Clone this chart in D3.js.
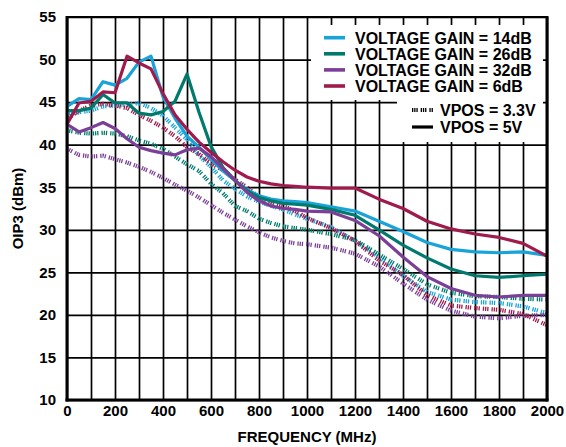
<!DOCTYPE html>
<html>
<head>
<meta charset="utf-8">
<script src="https://cdn.jsdelivr.net/npm/d3@7"></script>
<style>
  html, body { margin: 0; padding: 0; background: #fff; }
  svg { display: block; font-family: "Liberation Sans", Arial, sans-serif; }
</style>
</head>
<body>
<svg id="chart" width="566" height="447"></svg>
<script>
// ---------- DATA ----------
const freqs = [0,50,100,150,200,250,300,350,400,450,500,550,600,650,700,750,800,850,900,950,1000,1100,1200,1300,1400,1500,1600,1700,1800,1900,2000];

// VPOS = 5V (solid)
const gain14_5V = [44.5,45.4,45.3,47.4,47.0,47.8,49.7,50.4,45.6,43.1,41.0,39.7,38.3,36.9,35.8,34.7,34.0,33.6,33.4,33.3,33.2,32.7,32.2,31.0,29.8,28.5,27.7,27.4,27.3,27.4,27.0];
const gain26_5V = [44.0,44.0,44.3,45.9,44.9,44.9,43.7,43.5,43.9,45.1,48.3,43.8,39.8,37.3,35.8,34.6,33.8,33.4,33.1,33.0,32.9,32.4,31.7,30.0,28.2,26.7,25.4,24.6,24.4,24.6,24.8];
const gain32_5V = [42.4,41.5,42.0,42.6,41.9,40.7,39.7,39.3,39.0,38.8,39.4,39.6,38.6,37.2,35.8,34.4,33.4,32.8,32.5,32.4,32.2,32.1,31.1,29.3,26.8,24.5,23.1,22.3,22.1,22.3,22.3];
const gain6_5V  = [42.4,44.9,45.1,46.2,46.1,50.4,49.6,48.9,46.0,43.5,41.8,40.3,39.1,38.0,37.0,36.2,35.7,35.4,35.2,35.1,35.0,34.9,34.9,33.6,32.5,31.0,30.1,29.5,29.1,28.4,26.9];

// VPOS = 3.3V (dotted)
const gain14_33V = [43.5,43.8,44.0,44.5,44.6,44.7,44.9,44.3,43.4,42.0,40.6,38.7,37.4,35.8,34.8,33.9,33.3,32.8,32.4,31.8,31.3,30.3,28.7,26.8,24.6,22.7,21.8,21.5,21.4,21.0,20.2];
const gain26_33V = [41.7,41.4,41.3,41.4,41.3,41.0,40.5,40.1,39.5,38.6,37.7,36.9,35.4,34.3,32.8,32.2,31.3,30.8,30.4,30.2,30.0,29.5,28.8,27.1,25.4,23.6,22.6,22.2,22.1,21.9,21.8];
const gain32_33V = [39.5,38.8,38.6,38.7,38.3,37.9,37.4,36.8,36.1,35.3,34.6,33.8,32.9,32.0,31.2,30.4,29.7,29.1,28.7,28.4,28.3,27.9,27.2,25.7,23.7,21.8,20.5,19.8,19.6,19.9,20.0];
const gain6_33V  = [43.0,44.0,44.6,44.8,44.6,44.3,43.5,42.8,42.0,41.0,39.7,38.9,37.8,37.0,35.9,35.0,33.8,33.2,32.8,32.2,31.4,30.2,28.7,26.4,24.7,22.3,21.1,20.8,20.6,20.1,18.8];

const legendGain = ["VOLTAGE GAIN = 14dB","VOLTAGE GAIN = 26dB","VOLTAGE GAIN = 32dB","VOLTAGE GAIN = 6dB"];
const legendVpos = ["VPOS = 3.3V","VPOS = 5V"];
const xTickLabels = [0,200,400,600,800,1000,1200,1400,1600,1800,2000];
const yTickLabels = [10,15,20,25,30,35,40,45,50,55];
const xTitle = "FREQUENCY (MHz)";
const yTitle = "OIP3 (dBm)";

// ---------- STYLE ----------
const colors = ["#18a3d9", "#007a6c", "#7b3f97", "#a01b4d"];
const dashPattern = "1.3,0.9,1.3,0.9,1.3,3";

const svg = d3.select("#chart");
const L = 67, R = 547, T = 17, B = 400;
const x = d3.scaleLinear().domain([0, 2000]).range([L, R]);
const y = d3.scaleLinear().domain([10, 55]).range([B, T]);

// grid
const gx = svg.append("g").attr("transform", `translate(0,${B})`)
  .call(d3.axisBottom(x).tickValues(d3.range(0, 2001, 100)).tickSize(-(B - T)).tickFormat(""));
gx.select(".domain").remove();
gx.selectAll("line").attr("stroke", "#000").attr("stroke-width", 1.7);

const gy = svg.append("g").attr("transform", `translate(${L},0)`)
  .call(d3.axisLeft(y).tickValues(yTickLabels).tickSize(-(R - L)).tickFormat(""));
gy.select(".domain").remove();
gy.selectAll("line").attr("stroke", "#000").attr("stroke-width", 1.7);

// legend boxes (white, covering grid)
svg.append("rect").attr("x", 311).attr("y", 25).attr("width", 232).attr("height", 75).attr("fill", "#fff");
svg.append("rect").attr("x", 397).attr("y", 99).attr("width", 146).attr("height", 43).attr("fill", "#fff");

// data lines
const line = d3.line().x((d, i) => x(freqs[i])).y(d => y(d)).curve(d3.curveLinear);
const dotted = [gain14_33V, gain26_33V, gain32_33V, gain6_33V];
const solid = [gain14_5V, gain26_5V, gain32_5V, gain6_5V];

dotted.forEach((s, i) => {
  svg.append("path").datum(s).attr("d", line)
    .attr("fill", "none").attr("stroke", colors[i]).attr("stroke-width", 4.2)
    .attr("stroke-dasharray", dashPattern);
});
solid.forEach((s, i) => {
  svg.append("path").datum(s).attr("d", line)
    .attr("fill", "none").attr("stroke", colors[i]).attr("stroke-width", 3.2)
    .attr("stroke-linejoin", "round");
});

// frame
svg.append("line").attr("x1", L).attr("x2", R).attr("y1", T).attr("y2", T).attr("stroke", "#000").attr("stroke-width", 2);
svg.append("line").attr("x1", L).attr("x2", L).attr("y1", T - 1).attr("y2", B + 1.5).attr("stroke", "#000").attr("stroke-width", 3);
svg.append("line").attr("x1", R).attr("x2", R).attr("y1", T - 1).attr("y2", B + 1.5).attr("stroke", "#000").attr("stroke-width", 3);
svg.append("line").attr("x1", L - 1.5).attr("x2", R + 1.5).attr("y1", B).attr("y2", B).attr("stroke", "#000").attr("stroke-width", 3);

// tick labels
const xl = svg.append("g").attr("transform", `translate(0,${B + 5})`)
  .call(d3.axisBottom(x).tickValues(xTickLabels).tickSize(0).tickPadding(0).tickFormat(d3.format("d")));
xl.select(".domain").remove();
xl.selectAll("text").attr("font-size", 15).attr("font-weight", "bold").attr("fill", "#000")
  .attr("font-family", "Liberation Sans, Arial, sans-serif").attr("dy", "0.71em");

const yl = svg.append("g").attr("transform", `translate(${L - 11},0)`)
  .call(d3.axisLeft(y).tickValues(yTickLabels).tickSize(0).tickPadding(0).tickFormat(d3.format("d")));
yl.select(".domain").remove();
yl.selectAll("text").attr("font-size", 15).attr("font-weight", "bold").attr("fill", "#000")
  .attr("font-family", "Liberation Sans, Arial, sans-serif");

// axis titles
svg.append("text").attr("x", (L + R) / 2).attr("y", 442).attr("text-anchor", "middle")
  .attr("font-size", 15).attr("font-weight", "bold").text(xTitle);
svg.append("text").attr("transform", `translate(23,${(T + B) / 2}) rotate(-90)`).attr("text-anchor", "middle")
  .attr("font-size", 15).attr("font-weight", "bold").text(yTitle);

// legend
legendGain.forEach((t, i) => {
  const yy = 37.7 + i * 16.1;
  svg.append("line").attr("x1", 324).attr("x2", 345).attr("y1", yy).attr("y2", yy)
    .attr("stroke", colors[i]).attr("stroke-width", 3.6);
  svg.append("text").attr("x", 355).attr("y", yy + 5.8).attr("font-size", 16).attr("font-weight", "bold").text(t);
});
legendVpos.forEach((t, i) => {
  const yy = 110 + i * 17;
  svg.append("line").attr("x1", 412).attr("x2", 433).attr("y1", yy).attr("y2", yy)
    .attr("stroke", "#000").attr("stroke-width", i === 0 ? 4.2 : 3.2)
    .attr("stroke-dasharray", i === 0 ? dashPattern : null);
  svg.append("text").attr("x", 440).attr("y", yy + 6).attr("font-size", 16).attr("font-weight", "bold").text(t);
});
</script>
</body>
</html>
